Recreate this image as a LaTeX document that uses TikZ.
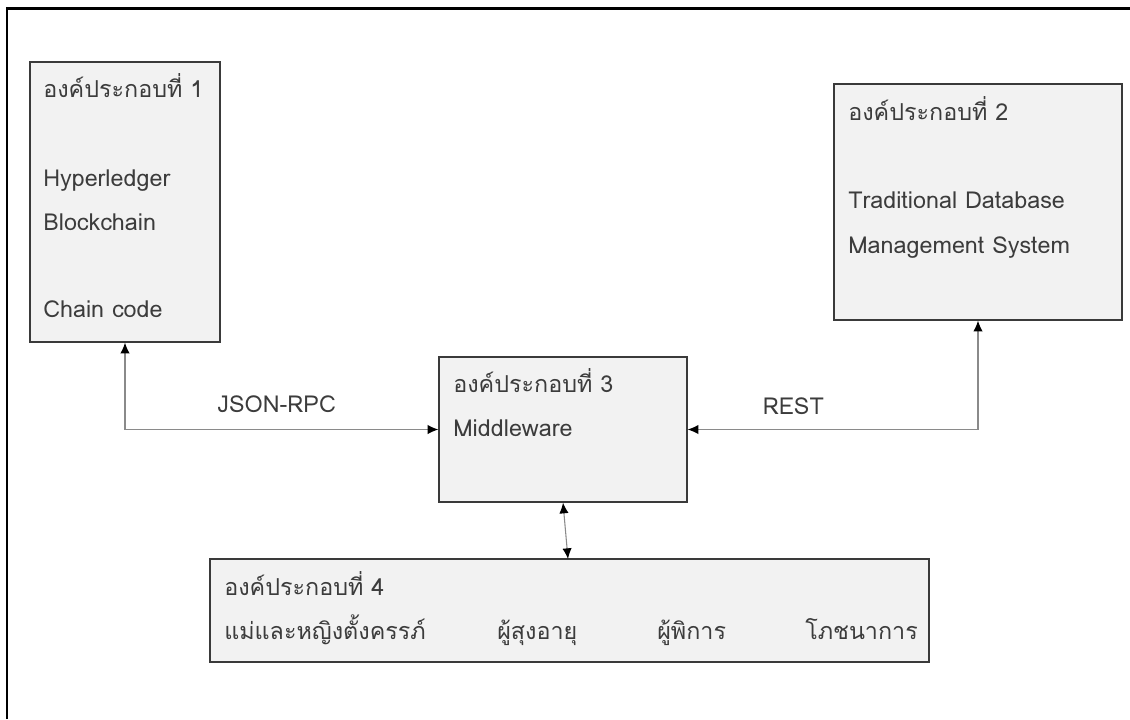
\documentclass[tikz,border=0pt]{standalone}
\usepackage{fontspec}
\newfontfamily\thaifont[Script=Thai]{Loma}
\usepackage{tikz}
\usetikzlibrary{arrows.meta, positioning, calc}

\definecolor{boxfill}{HTML}{F2F2F2}
\definecolor{boxline}{HTML}{3A3A3A}
\definecolor{txtgray}{HTML}{3C3C3C}
\definecolor{linkgray}{HTML}{8A8A8A}

\begin{document}
\begin{tikzpicture}[x=0.75pt, y=-0.75pt]
\tikzset{
    node style box/.style={draw=boxline, fill=boxfill, rectangle, line width=1pt, inner sep=0pt},
    node style txt/.style={anchor=base west, inner sep=0pt, text=txtgray, font=\thaifont\fontsize{17.5}{21}\selectfont},
    arrow style link/.style={draw=linkgray, line width=0.8pt, {Latex[black,length=8pt,width=7pt]}-{Latex[black,length=8pt,width=7pt]}},
    label style link/.style={inner sep=0pt, text=txtgray, font=\thaifont\fontsize{17.5}{21}\selectfont}
}
  \useasboundingbox (0,0) rectangle (1130,719);
  % frame (only top and left edges show)
  \draw[line width=1.6pt] (7,719) -- (7,8.5) -- (1130,8.5);

  % boxes
  \node[node style box, minimum width=142.5pt, minimum height=210pt] (b1) at (125,202) {};
  \node[node style box, minimum width=216pt, minimum height=177pt] (b2) at (978,202) {};
  \node[node style box, minimum width=186pt, minimum height=108.75pt] (b3) at (563,429.5) {};
  \node[node style box, minimum width=539.25pt, minimum height=77.25pt] (b4) at (569.5,610.5) {};
  \coordinate (b4in) at (568,559);

  % texts
  \node[node style txt] (t1a) at (43,97) {องค์ประกอบที่ 1};
  \node[node style txt] (t1b) at (43,186) {Hyperledger};
  \node[node style txt] (t1c) at (43,230) {Blockchain};
  \node[node style txt] (t1d) at (43,317) {Chain code};

  \node[node style txt] (t2a) at (848,120) {องค์ประกอบที่ 2};
  \node[node style txt] (t2b) at (848,208) {Traditional Database};
  \node[node style txt] (t2c) at (848,253) {Management System};

  \node[node style txt] (t3a) at (453,392) {องค์ประกอบที่ 3};
  \node[node style txt] (t3b) at (453,436) {Middleware};

  \node[node style txt] (t4a) at (224,595) {องค์ประกอบที่ 4};
  \node[node style txt] (t4b) at (224,639) {แม่และหญิงตั้งครรภ์};
  \node[node style txt] (t4c) at (497,639) {ผู้สุงอายุ};
  \node[node style txt] (t4d) at (657,639) {ผู้พิการ};
  \node[node style txt] (t4e) at (805,639) {โภชนาการ};

  % links
  \draw[arrow style link] (b1.south) |- (b3.west)
      node[label style link, pos=0.742, above=12pt] {JSON-RPC};
  \draw[arrow style link] (b2.south) |- (b3.east)
      node[label style link, pos=0.818, above=11pt] {REST};
  \draw[arrow style link] (b3.south) -- (b4in);
\end{tikzpicture}
\end{document}
